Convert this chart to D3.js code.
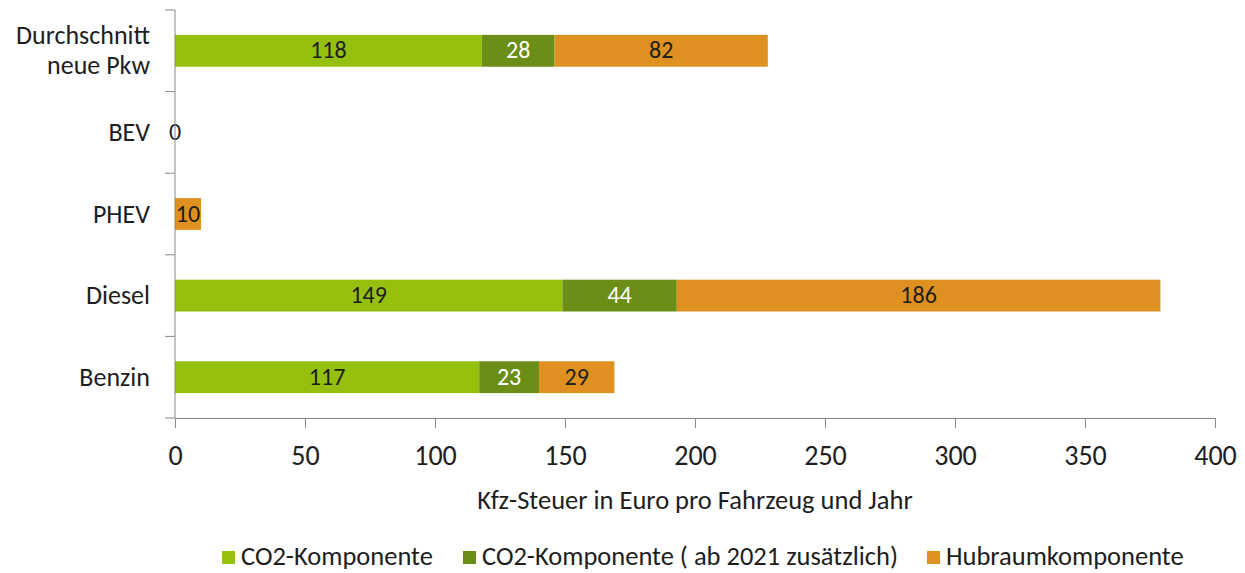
<!DOCTYPE html>
<html><head><meta charset="utf-8">
<script src="https://cdn.jsdelivr.net/npm/d3@7"></script>
<style>
body{margin:0;background:#fff;}
svg text{font-family:Carlito,Calibri,"Open Sans",sans-serif;fill:#1e1e1e;}
</style></head>
<body><svg id="c" width="1245" height="573"></svg>
<script>
const categories = ["Durchschnitt neue Pkw","BEV","PHEV","Diesel","Benzin"];
const categoryLines = [["Durchschnitt","neue Pkw"],["BEV"],["PHEV"],["Diesel"],["Benzin"]];
const seriesNames = ["CO2-Komponente","CO2-Komponente ( ab 2021 zusätzlich)","Hubraumkomponente"];
const co2 = [118, 0, 0, 149, 117];
const co2Extra = [28, 0, 0, 44, 23];
const hubraum = [82, 0, 10, 186, 29];
const xTicks = [0,50,100,150,200,250,300,350,400];
const colors = ["#95c00e","#6a8e16","#de9120"];
const labelColors = ["#1e1e1e","#ffffff","#1e1e1e"];

(function(){
const svg = d3.select("#c");
const mLeft = 175, mRight = 1215, mTop = 10, mBottom = 418;
const x = d3.scaleLinear().domain([0,400]).range([mLeft,mRight]);
const y = d3.scaleBand().domain(categories).range([mTop,mBottom]).paddingInner(0.61).paddingOuter(0.305);
const yb = d3.scaleBand().domain(categories).range([mTop,mBottom]);

const rows = categories.map((c,i)=>({cat:c, v:[co2[i],co2Extra[i],hubraum[i]]}));
const stack = d3.stack().keys([0,1,2]).value((d,k)=>d.v[k]);
const layers = stack(rows);

const g = svg.append("g");
layers.forEach((layer,k)=>{
  layer.forEach((seg,i)=>{
    const w = x(seg[1]) - x(seg[0]);
    if (w <= 0) return;
    g.append("rect").attr("x",x(seg[0])).attr("y",y(categories[i]))
      .attr("width",w).attr("height",y.bandwidth()).attr("fill",colors[k]);
  });
});
layers.forEach((layer,k)=>{
  layer.forEach((seg,i)=>{
    if (rows[i].v[k] <= 0) return;
    g.append("text").attr("x",(x(seg[0])+x(seg[1]))/2).attr("y",y(categories[i])+y.bandwidth()/2)
      .attr("dy","0.32em").attr("text-anchor","middle").style("font-size","24px")
      .style("fill",labelColors[k]).text(rows[i].v[k]);
  });
});
rows.forEach((r,i)=>{
  const tot = d3.sum(r.v);
  if (tot===0){
    g.append("text").attr("x",x(0)).attr("y",yb(categories[i])+yb.bandwidth()/2)
     .attr("dy","0.32em").attr("text-anchor","middle").style("font-size","24px").text("0");
  }
});

const axisColor = "#888888";
const xAxis = svg.append("g").attr("transform",`translate(0,${mBottom})`)
  .call(d3.axisBottom(x).tickValues(xTicks).tickSize(10).tickSizeOuter(0));
xAxis.select(".domain").attr("stroke",axisColor);
xAxis.selectAll(".tick line").attr("stroke",axisColor);
xAxis.selectAll("text").attr("y",27).style("font-size","28px").style("font-family","Carlito,Calibri,sans-serif").attr("fill","#1e1e1e");

const yAxisG = svg.append("g");
yAxisG.append("line").attr("x1",mLeft).attr("x2",mLeft).attr("y1",mTop).attr("y2",mBottom).attr("stroke",axisColor);
const bounds = categories.map(c=>yb(c)).concat([mBottom]);
bounds.forEach(b=>{
  yAxisG.append("line").attr("x1",mLeft-10).attr("x2",mLeft).attr("y1",b).attr("y2",b).attr("stroke",axisColor);
});
categoryLines.forEach((lines,i)=>{
  const cy = yb(categories[i]) + yb.bandwidth()/2;
  const lh = 30;
  const t = yAxisG.append("text").attr("text-anchor","end").style("font-size","26px");
  lines.forEach((ln,j)=>{
    t.append("tspan").attr("x",150).attr("y",cy + (j-(lines.length-1)/2)*lh).attr("dy","0.33em").text(ln);
  });
});

svg.append("text").attr("x",(mLeft+mRight)/2).attr("y",509).attr("text-anchor","middle")
  .style("font-size","26.5px").text("Kfz-Steuer in Euro pro Fahrzeug und Jahr");

const legendX = [222, 463, 927];
seriesNames.forEach((n,k)=>{
  const lg = svg.append("g").attr("transform",`translate(${legendX[k]},0)`);
  lg.append("rect").attr("x",0).attr("y",551).attr("width",13).attr("height",13).attr("fill",colors[k]);
  lg.append("text").attr("x",19).attr("y",565).style("font-size","26.5px").text(n);
});
})();
</script></body></html>
